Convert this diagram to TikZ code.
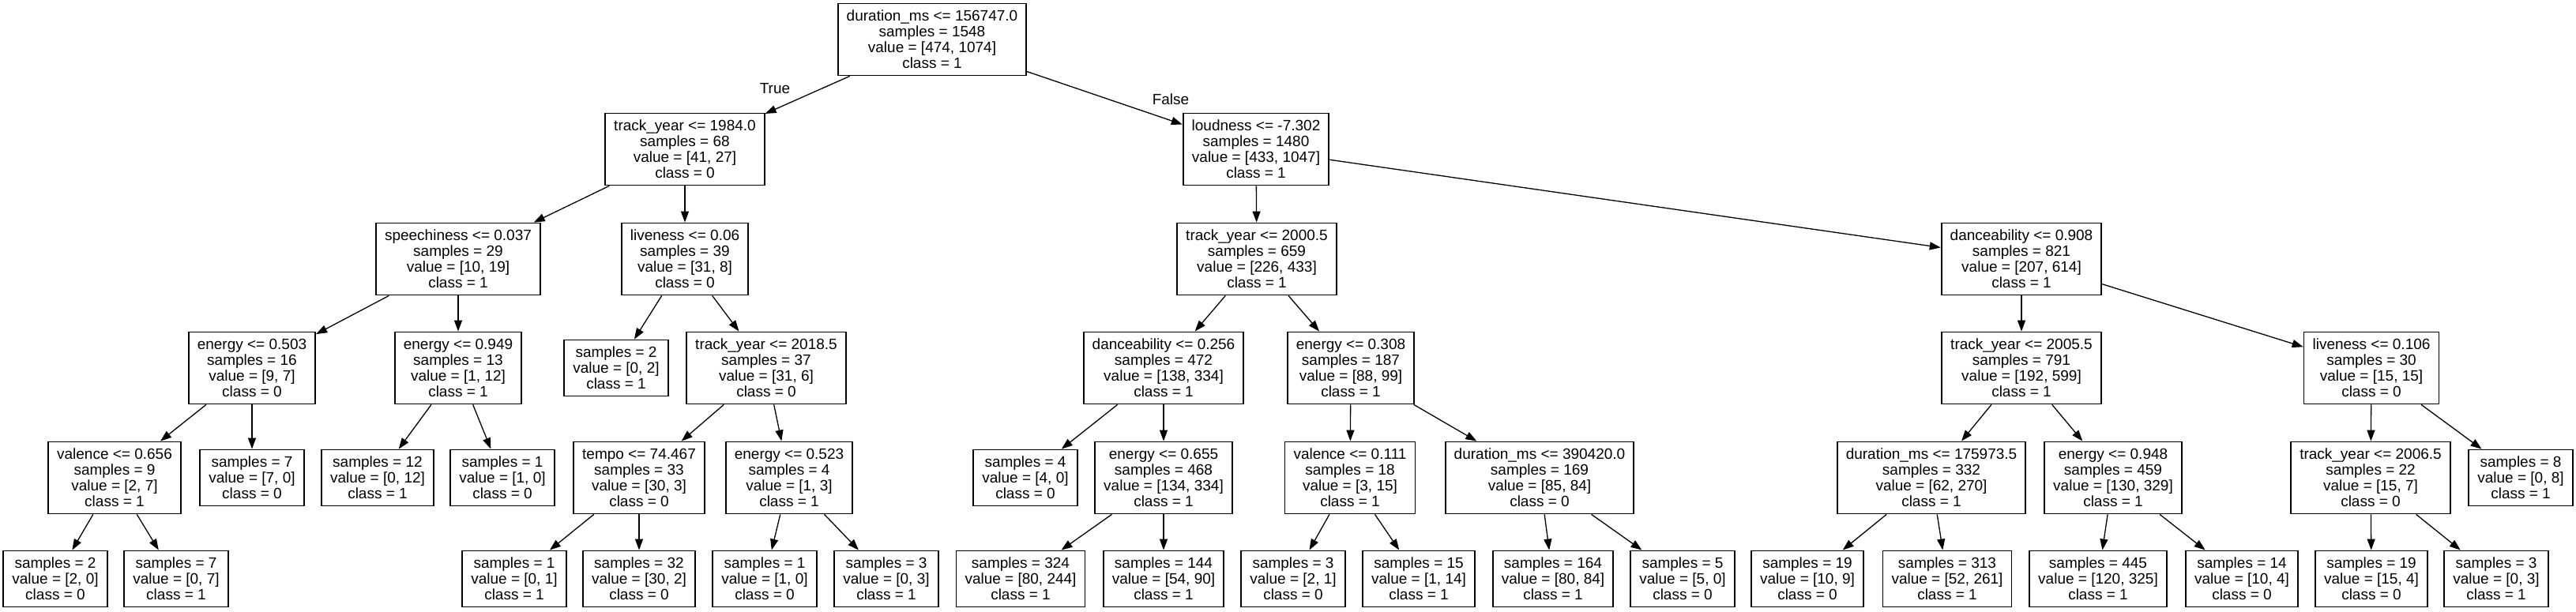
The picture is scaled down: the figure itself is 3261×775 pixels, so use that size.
\documentclass[tikz,border=0pt]{standalone}
\usepackage{fontspec}
\setmainfont{Liberation Sans}
\usetikzlibrary{arrows.meta}

\begin{document}
\begin{tikzpicture}[x=1pt, y=-1pt,
  box/.style={draw=black, line width=1.8pt, align=center, inner xsep=11pt, inner ysep=0pt, font=\fontsize{19}{20}\selectfont},
  split/.style={box, minimum height=91pt},
  leaf/.style={box, minimum height=71pt},
  edge/.style={line width=1.3pt, -{Triangle[length=14pt, width=10pt]}},
  lbl/.style={font=\fontsize{19}{20}\selectfont}]
\useasboundingbox (0,0) rectangle (3261,775);
\node[split] (root) at (1180,50) {duration\_ms <= 156747.0\\samples = 1548\\value = [474, 1074]\\class = 1};
\node[split] (t1984) at (867,189) {track\_year <= 1984.0\\samples = 68\\value = [41, 27]\\class = 0};
\node[split] (loud) at (1590,189) {loudness <= -7.302\\samples = 1480\\value = [433, 1047]\\class = 1};
\node[split] (speech) at (580,328) {speechiness <= 0.037\\samples = 29\\value = [10, 19]\\class = 1};
\node[split] (live06) at (867,328) {liveness <= 0.06\\samples = 39\\value = [31, 8]\\class = 0};
\node[split] (t2000) at (1591,328) {track\_year <= 2000.5\\samples = 659\\value = [226, 433]\\class = 1};
\node[split] (dance908) at (2559,328) {danceability <= 0.908\\samples = 821\\value = [207, 614]\\class = 1};
\node[split] (e503) at (319,466) {energy <= 0.503\\samples = 16\\value = [9, 7]\\class = 0};
\node[split] (e949) at (580,466) {energy <= 0.949\\samples = 13\\value = [1, 12]\\class = 1};
\node[leaf] (l02) at (780,466) {samples = 2\\value = [0, 2]\\class = 1};
\node[split] (t2018) at (970,466) {track\_year <= 2018.5\\samples = 37\\value = [31, 6]\\class = 0};
\node[split] (dance256) at (1473,466) {danceability <= 0.256\\samples = 472\\value = [138, 334]\\class = 1};
\node[split] (e308) at (1710,466) {energy <= 0.308\\samples = 187\\value = [88, 99]\\class = 1};
\node[split] (t2005) at (2559,466) {track\_year <= 2005.5\\samples = 791\\value = [192, 599]\\class = 1};
\node[split] (live106) at (3002,466) {liveness <= 0.106\\samples = 30\\value = [15, 15]\\class = 0};
\node[split] (val656) at (145,605) {valence <= 0.656\\samples = 9\\value = [2, 7]\\class = 1};
\node[leaf] (l70) at (319,605) {samples = 7\\value = [7, 0]\\class = 0};
\node[leaf] (l012) at (478,605) {samples = 12\\value = [0, 12]\\class = 1};
\node[leaf] (l10a) at (636,605) {samples = 1\\value = [1, 0]\\class = 0};
\node[split] (tempo) at (809,605) {tempo <= 74.467\\samples = 33\\value = [30, 3]\\class = 0};
\node[split] (e523) at (999,605) {energy <= 0.523\\samples = 4\\value = [1, 3]\\class = 1};
\node[leaf] (l40) at (1298,605) {samples = 4\\value = [4, 0]\\class = 0};
\node[split] (e655) at (1473,605) {energy <= 0.655\\samples = 468\\value = [134, 334]\\class = 1};
\node[split] (val111) at (1709,605) {valence <= 0.111\\samples = 18\\value = [3, 15]\\class = 1};
\node[split] (dur390) at (1949,605) {duration\_ms <= 390420.0\\samples = 169\\value = [85, 84]\\class = 0};
\node[split] (dur175) at (2445,605) {duration\_ms <= 175973.5\\samples = 332\\value = [62, 270]\\class = 1};
\node[split] (e948) at (2675,605) {energy <= 0.948\\samples = 459\\value = [130, 329]\\class = 1};
\node[split] (t2006) at (3001,605) {track\_year <= 2006.5\\samples = 22\\value = [15, 7]\\class = 0};
\node[leaf] (l08) at (3191,605) {samples = 8\\value = [0, 8]\\class = 1};
\node[leaf] (l20) at (70,733) {samples = 2\\value = [2, 0]\\class = 0};
\node[leaf] (l07) at (223,733) {samples = 7\\value = [0, 7]\\class = 1};
\node[leaf] (l01) at (651,733) {samples = 1\\value = [0, 1]\\class = 1};
\node[leaf] (l302) at (809,733) {samples = 32\\value = [30, 2]\\class = 0};
\node[leaf] (l10b) at (968,733) {samples = 1\\value = [1, 0]\\class = 0};
\node[leaf] (l03a) at (1122,733) {samples = 3\\value = [0, 3]\\class = 1};
\node[leaf] (l80) at (1292,733) {samples = 324\\value = [80, 244]\\class = 1};
\node[leaf] (l54) at (1473,733) {samples = 144\\value = [54, 90]\\class = 1};
\node[leaf] (l21) at (1637,733) {samples = 3\\value = [2, 1]\\class = 0};
\node[leaf] (l114) at (1796,733) {samples = 15\\value = [1, 14]\\class = 1};
\node[leaf] (l8084) at (1966,733) {samples = 164\\value = [80, 84]\\class = 1};
\node[leaf] (l50) at (2130,733) {samples = 5\\value = [5, 0]\\class = 0};
\node[leaf] (l109) at (2288,733) {samples = 19\\value = [10, 9]\\class = 0};
\node[leaf] (l52) at (2465,733) {samples = 313\\value = [52, 261]\\class = 1};
\node[leaf] (l120) at (2656,733) {samples = 445\\value = [120, 325]\\class = 1};
\node[leaf] (l104) at (2838,733) {samples = 14\\value = [10, 4]\\class = 0};
\node[leaf] (l154) at (3002,733) {samples = 19\\value = [15, 4]\\class = 0};
\node[leaf] (l03b) at (3160,733) {samples = 3\\value = [0, 3]\\class = 1};
\node[lbl] (true) at (981,112) {True};
\node[lbl] (false) at (1482,126) {False};
\draw[edge] (root) -- (t1984);
\draw[edge] (root) -- (loud);
\draw[edge] (t1984) -- (speech);
\draw[edge] (t1984) -- (live06);
\draw[edge] (speech) -- (e503);
\draw[edge] (speech) -- (e949);
\draw[edge] (e503) -- (val656);
\draw[edge] (e503) -- (l70);
\draw[edge] (val656) -- (l20);
\draw[edge] (val656) -- (l07);
\draw[edge] (e949) -- (l012);
\draw[edge] (e949) -- (l10a);
\draw[edge] (live06) -- (l02);
\draw[edge] (live06) -- (t2018);
\draw[edge] (t2018) -- (tempo);
\draw[edge] (t2018) -- (e523);
\draw[edge] (tempo) -- (l01);
\draw[edge] (tempo) -- (l302);
\draw[edge] (e523) -- (l10b);
\draw[edge] (e523) -- (l03a);
\draw[edge] (loud) -- (t2000);
\draw[edge] (loud) -- (dance908);
\draw[edge] (t2000) -- (dance256);
\draw[edge] (t2000) -- (e308);
\draw[edge] (dance256) -- (l40);
\draw[edge] (dance256) -- (e655);
\draw[edge] (e655) -- (l80);
\draw[edge] (e655) -- (l54);
\draw[edge] (e308) -- (val111);
\draw[edge] (e308) -- (dur390);
\draw[edge] (val111) -- (l21);
\draw[edge] (val111) -- (l114);
\draw[edge] (dur390) -- (l8084);
\draw[edge] (dur390) -- (l50);
\draw[edge] (dance908) -- (t2005);
\draw[edge] (dance908) -- (live106);
\draw[edge] (t2005) -- (dur175);
\draw[edge] (t2005) -- (e948);
\draw[edge] (dur175) -- (l109);
\draw[edge] (dur175) -- (l52);
\draw[edge] (e948) -- (l120);
\draw[edge] (e948) -- (l104);
\draw[edge] (live106) -- (t2006);
\draw[edge] (live106) -- (l08);
\draw[edge] (t2006) -- (l154);
\draw[edge] (t2006) -- (l03b);
\end{tikzpicture}
\end{document}
